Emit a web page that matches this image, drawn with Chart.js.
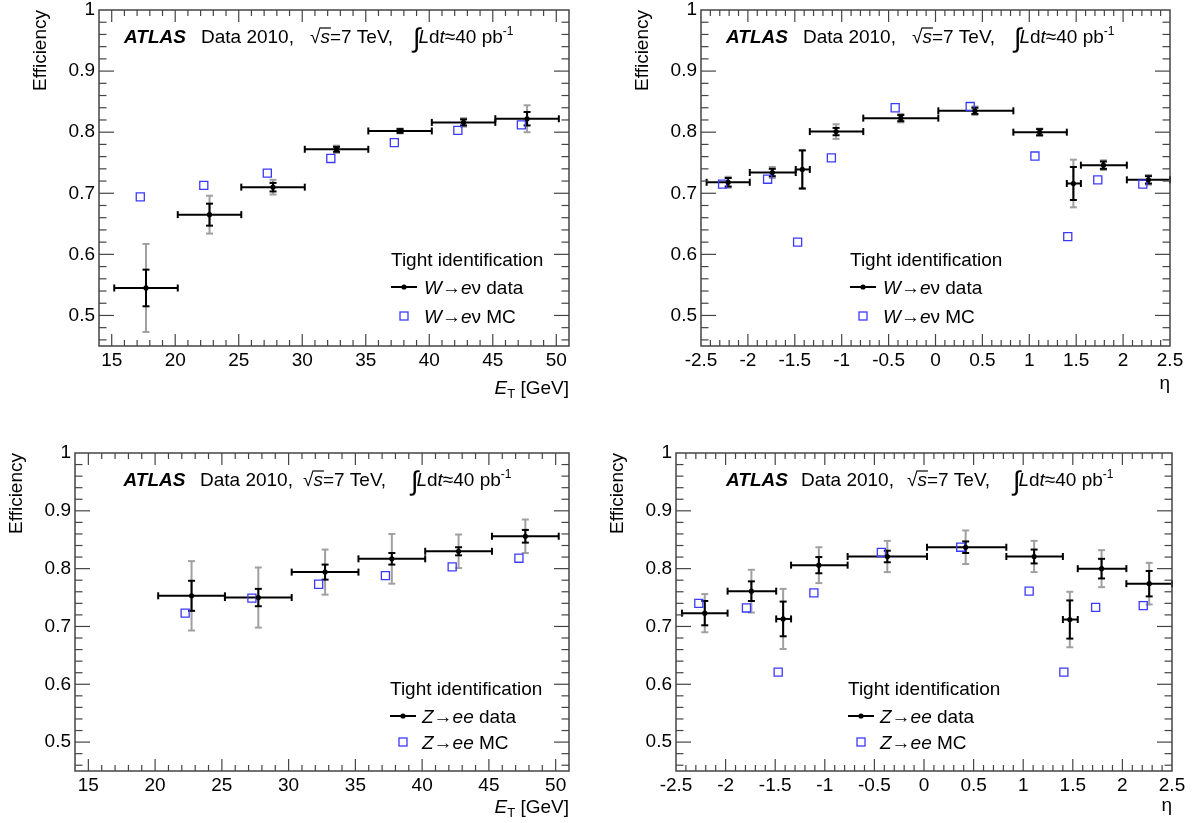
<!DOCTYPE html>
<html><head><meta charset="utf-8">
<script src="https://cdn.jsdelivr.net/npm/chart.js@4.4.1/dist/chart.umd.min.js"></script>
<style>
html,body{margin:0;padding:0;background:#fff;}
#wrap{position:relative;width:1195px;height:823px;background:#fff;}
canvas{position:absolute;left:0;top:0;}
</style></head><body><div id="wrap">
<canvas id="c1" width="1195" height="823"></canvas>
<canvas id="c2" width="1195" height="823"></canvas>
<canvas id="c3" width="1195" height="823"></canvas>
<canvas id="c4" width="1195" height="823"></canvas>
</div>
<script>
// ---------- tick labels ----------
const effTicks = [0.5, 0.6, 0.7, 0.8, 0.9, 1.0];
const etTicks = [15, 20, 25, 30, 35, 40, 45, 50];
const etaTicks = [-2.5, -2, -1.5, -1, -0.5, 0, 0.5, 1, 1.5, 2, 2.5];

// ---------- W -> e nu vs E_T ----------
const wEtDataX = [17.7, 22.7, 27.7, 32.7, 37.7, 42.7, 47.7];
const wEtDataY = [0.545, 0.665, 0.710, 0.772, 0.802, 0.816, 0.822];
const wEtStat  = [0.030, 0.018, 0.007, 0.004, 0.003, 0.005, 0.011];
const wEtTot   = [0.072, 0.031, 0.012, 0.006, 0.004, 0.007, 0.022];
const wEtLo    = [15.2, 20.2, 25.2, 30.2, 35.2, 40.2, 45.2];
const wEtHi    = [20.2, 25.2, 30.2, 35.2, 40.2, 45.2, 50.2];
const wEtMcX   = [17.25, 22.25, 27.25, 32.25, 37.25, 42.25, 47.25];
const wEtMcY   = [0.694, 0.713, 0.733, 0.757, 0.783, 0.803, 0.812];

// ---------- W -> e nu vs eta ----------
const etaLo    = [-2.44, -1.98, -1.49, -1.34, -0.77, 0.03, 0.83, 1.40, 1.55, 2.04];
const etaHi    = [-1.98, -1.49, -1.34, -0.77, 0.03, 0.83, 1.40, 1.55, 2.04, 2.50];
const etaDataX = [-2.21, -1.74, -1.42, -1.06, -0.37, 0.42, 1.11, 1.47, 1.79, 2.27];
const etaMcX   = [-2.27, -1.79, -1.47, -1.11, -0.43, 0.37, 1.06, 1.41, 1.73, 2.21];
const wEtaDataY = [0.718, 0.734, 0.739, 0.801, 0.823, 0.835, 0.800, 0.716, 0.746, 0.722];
const wEtaStat  = [0.007, 0.006, 0.031, 0.006, 0.005, 0.005, 0.005, 0.027, 0.006, 0.006];
const wEtaTot   = [0.009, 0.009, 0.032, 0.012, 0.007, 0.007, 0.006, 0.039, 0.008, 0.008];
const wEtaMcY   = [0.715, 0.723, 0.620, 0.758, 0.840, 0.842, 0.761, 0.629, 0.722, 0.715];

// ---------- Z -> ee vs E_T ----------
const zEtDataX = [22.73, 27.73, 32.73, 37.73, 42.73, 47.73];
const zEtDataY = [0.753, 0.750, 0.794, 0.817, 0.830, 0.856];
const zEtStat  = [0.026, 0.015, 0.013, 0.010, 0.007, 0.011];
const zEtTot   = [0.060, 0.052, 0.039, 0.043, 0.029, 0.029];
const zEtLo    = [20.23, 25.23, 30.23, 35.23, 40.23, 45.23];
const zEtHi    = [25.23, 30.23, 35.23, 40.23, 45.23, 50.23];
const zEtMcX   = [22.25, 27.25, 32.25, 37.25, 42.25, 47.25];
const zEtMcY   = [0.723, 0.749, 0.773, 0.788, 0.803, 0.818];

// ---------- Z -> ee vs eta ----------
const zEtaDataY = [0.723, 0.761, 0.713, 0.806, 0.821, 0.837, 0.821, 0.712, 0.800, 0.774];
const zEtaStat  = [0.021, 0.017, 0.030, 0.014, 0.010, 0.010, 0.012, 0.033, 0.017, 0.022];
const zEtaTot   = [0.033, 0.037, 0.052, 0.031, 0.027, 0.029, 0.027, 0.048, 0.032, 0.036];
const zEtaMcY   = [0.740, 0.732, 0.621, 0.758, 0.828, 0.837, 0.761, 0.621, 0.733, 0.736];

const FONT = '"Liberation Sans", Arial, Helvetica, sans-serif';
const FS = 19;

function setFont(ctx, style, size) {
  ctx.font = (style ? style + ' ' : '') + size + 'px ' + FONT;
}
function runsWidth(ctx, parts) {
  let w = 0;
  for (const p of parts) { setFont(ctx, p.style, p.size || FS); w += ctx.measureText(p.t).width + (p.gap || 0); }
  return w;
}
function drawRuns(ctx, x, y, parts) {
  for (const p of parts) {
    setFont(ctx, p.style, p.size || FS);
    ctx.fillText(p.t, x, y + (p.dy || 0));
    const w = ctx.measureText(p.t).width;
    if (p.over) {
      ctx.save(); ctx.lineWidth = 1.2; ctx.strokeStyle = '#000';
      ctx.beginPath(); ctx.moveTo(x - 1, y - 15); ctx.lineTo(x + w + 1, y - 15); ctx.stroke(); ctx.restore();
    }
    x += w + (p.gap || 0);
  }
  return x;
}
function seg(c, x1, y1, x2, y2) { c.beginPath(); c.moveTo(x1, y1); c.lineTo(x2, y2); c.stroke(); }

function makePanel(id, cfg) {
  const isEta = cfg.axis === 'eta';
  const xMin = isEta ? -2.5 : 14, xMax = isEta ? 2.5 : 51;
  const xTicks = isEta ? etaTicks : etTicks;
  const xMinor = isEta ? 0.1 : 1;
  const YW = 60, XH = 30;
  const A = cfg.area; // [left, top, right, bottom]
  const fmt = v => (Math.abs(v - 1) < 1e-9 && !isEta) ? String(Math.round(v * 10) / 10) : String(Math.round(v * 10) / 10);

  const plugin = {
    id: 'root_' + id,
    beforeDatasetsDraw(chart) {
      const c = chart.ctx, xs = chart.scales.x, ys = chart.scales.y;
      c.save();
      c.lineCap = 'butt';
      // total uncertainty (grey)
      c.strokeStyle = '#a0a0a0'; c.lineWidth = 2;
      cfg.dataX.forEach((xv, i) => {
        const px = xs.getPixelForValue(xv);
        const lo = ys.getPixelForValue(cfg.dataY[i] - cfg.tot[i]);
        const hi = ys.getPixelForValue(cfg.dataY[i] + cfg.tot[i]);
        seg(c, px, lo, px, hi); seg(c, px - 3.5, lo, px + 3.5, lo); seg(c, px - 3.5, hi, px + 3.5, hi);
      });
      // statistical (black)
      c.strokeStyle = '#000'; c.lineWidth = 2;
      cfg.dataX.forEach((xv, i) => {
        const px = xs.getPixelForValue(xv);
        const lo = ys.getPixelForValue(cfg.dataY[i] - cfg.stat[i]);
        const hi = ys.getPixelForValue(cfg.dataY[i] + cfg.stat[i]);
        seg(c, px, lo, px, hi); seg(c, px - 3.5, lo, px + 3.5, lo); seg(c, px - 3.5, hi, px + 3.5, hi);
        const py = ys.getPixelForValue(cfg.dataY[i]);
        const x1 = xs.getPixelForValue(cfg.lo[i]), x2 = xs.getPixelForValue(cfg.hi[i]);
        seg(c, x1, py, x2, py); seg(c, x1, py - 3.5, x1, py + 3.5); seg(c, x2, py - 3.5, x2, py + 3.5);
      });
      c.restore();
    },
    afterDraw(chart) {
      const c = chart.ctx, xs = chart.scales.x, ys = chart.scales.y, ca = chart.chartArea;
      c.save();
      // frame
      c.strokeStyle = '#444'; c.lineWidth = 1.5;
      c.strokeRect(ca.left, ca.top, ca.right - ca.left, ca.bottom - ca.top);
      // x ticks (inward, bottom + top)
      c.lineWidth = 1.2;
      const nX = Math.round((xMax - xMin) / xMinor);
      for (let k = 1; k < nX; k++) {
        const v = xMin + k * xMinor;
        const major = xTicks.some(t => Math.abs(t - v) < 1e-6);
        const L = major ? 12 : 6;
        const px = xs.getPixelForValue(v);
        seg(c, px, ca.bottom, px, ca.bottom - L);
        seg(c, px, ca.top, px, ca.top + L);
      }
      const nY = Math.round((1.0 - 0.45) / 0.02);
      for (let k = 1; k <= nY; k++) {
        const v = 1.0 - k * 0.02;
        if (v < 0.451) break;
        const major = effTicks.some(t => Math.abs(t - v) < 1e-6);
        const L = major ? 15 : 7.5;
        const py = ys.getPixelForValue(v);
        seg(c, ca.left, py, ca.left + L, py);
        seg(c, ca.right, py, ca.right - L, py);
      }
      // y title
      c.fillStyle = '#000';
      c.save();
      c.translate(ca.left - 53, ca.top);
      c.rotate(-Math.PI / 2);
      setFont(c, '', FS); c.textAlign = 'right'; c.textBaseline = 'alphabetic';
      c.fillText('Efficiency', 0, 0);
      c.restore();
      c.textAlign = 'left'; c.textBaseline = 'alphabetic';
      // x title
      const xt = isEta ? [{ t: 'η' }] : [{ t: 'E', style: 'italic' }, { t: 'T', size: 13, dy: 4 }, { t: ' [GeV]' }];
      const w = runsWidth(c, xt);
      drawRuns(c, ca.right - w, cfg.xTitleY, xt);
      // ATLAS label
      const ax = cfg.atlasX, ay = cfg.atlasY;
      drawRuns(c, ax[0], ay, [{ t: 'ATLAS', style: 'italic bold' }]);
      drawRuns(c, ax[1], ay, [{ t: 'Data 2010,' }]);
      drawRuns(c, ax[2], ay, [{ t: '√' }, { t: 's', style: 'italic', over: true }, { t: '=7 TeV,' }]);
      drawRuns(c, ax[3], ay, [{ t: '∫', size: 27, dy: 4, gap: -2 }, { t: 'L', style: 'italic' }, { t: 'd' }, { t: 't', style: 'italic' },
        { t: '≈40 pb' }, { t: '-1', size: 12, dy: -8 }]);
      // legend
      const lg = cfg.leg;
      drawRuns(c, lg.x, lg.y0 + 6.5, [{ t: 'Tight identification' }]);
      c.strokeStyle = '#000'; c.lineWidth = 2;
      seg(c, lg.x, lg.y1, lg.x + 26, lg.y1);
      c.beginPath(); c.arc(lg.x + 13, lg.y1, 2.6, 0, Math.PI * 2); c.fillStyle = '#000'; c.fill();
      c.strokeStyle = '#3a3aff'; c.lineWidth = 1.3;
      c.strokeRect(lg.x + 9, lg.y2 - 4, 8, 8);
      c.fillStyle = '#000';
      const ch = cfg.channel === 'W'
        ? [{ t: 'W', style: 'italic' }, { t: '→' }, { t: 'e', style: 'italic' }, { t: 'ν' }]
        : [{ t: 'Z', style: 'italic' }, { t: '→' }, { t: 'ee', style: 'italic' }];
      drawRuns(c, lg.tx, lg.y1 + 6.5, ch.concat([{ t: ' data' }]));
      drawRuns(c, lg.tx, lg.y2 + 6.5, ch.concat([{ t: ' MC' }]));
      c.restore();
    }
  };

  new Chart(document.getElementById(id), {
    type: 'scatter',
    data: {
      datasets: [
        { label: 'data', data: cfg.dataX.map((x, i) => ({ x, y: cfg.dataY[i] })), pointRadius: 2.6,
          pointBackgroundColor: '#000', pointBorderColor: '#000', pointBorderWidth: 0, showLine: false },
        { label: 'MC', data: cfg.mcX.map((x, i) => ({ x, y: cfg.mcY[i] })), pointStyle: 'rect', pointRadius: 5.7,
          pointBackgroundColor: 'rgba(0,0,0,0)', pointBorderColor: '#3a3aff', pointBorderWidth: 1.3, showLine: false }
      ]
    },
    options: {
      responsive: false, animation: false, events: [],
      layout: { padding: { left: A[0] - YW, top: A[1], right: 1195 - A[2], bottom: 823 - A[3] - XH } },
      plugins: { legend: { display: false }, tooltip: { enabled: false } },
      scales: {
        x: {
          type: 'linear', min: xMin, max: xMax,
          afterBuildTicks: s => { s.ticks = xTicks.map(v => ({ value: v })); },
          afterFit: s => { s.height = XH; s.paddingLeft = 0; s.paddingRight = 0; },
          grid: { display: false, drawTicks: false }, border: { display: false },
          ticks: { autoSkip: false, maxRotation: 0, padding: 3, color: '#000', font: { family: FONT, size: FS },
            callback: v => fmt(v) }
        },
        y: {
          type: 'linear', min: 0.45, max: 1.0,
          afterBuildTicks: s => { s.ticks = effTicks.map(v => ({ value: v })); },
          afterFit: s => { s.width = YW; s.paddingTop = 0; s.paddingBottom = 0; },
          grid: { display: false, drawTicks: false }, border: { display: false },
          ticks: { autoSkip: false, padding: 4, color: '#000', font: { family: FONT, size: FS },
            callback: v => fmt(v) }
        }
      }
    },
    plugins: [plugin]
  });
}

makePanel('c1', { axis: 'et', channel: 'W', area: [99, 10, 569, 346],
  dataX: wEtDataX, dataY: wEtDataY, stat: wEtStat, tot: wEtTot, lo: wEtLo, hi: wEtHi, mcX: wEtMcX, mcY: wEtMcY,
  xTitleY: 394, atlasX: [124, 201, 310, 413], atlasY: 43,
  leg: { x: 391, tx: 424, y0: 259, y1: 287, y2: 316 } });
makePanel('c2', { axis: 'eta', channel: 'W', area: [701, 10, 1170, 346],
  dataX: etaDataX, dataY: wEtaDataY, stat: wEtaStat, tot: wEtaTot, lo: etaLo, hi: etaHi, mcX: etaMcX, mcY: wEtaMcY,
  xTitleY: 389, atlasX: [726, 803, 912, 1014], atlasY: 43,
  leg: { x: 850, tx: 883, y0: 259, y1: 287, y2: 316 } });
makePanel('c3', { axis: 'et', channel: 'Z', area: [75, 453, 569, 771],
  dataX: zEtDataX, dataY: zEtDataY, stat: zEtStat, tot: zEtTot, lo: zEtLo, hi: zEtHi, mcX: zEtMcX, mcY: zEtMcY,
  xTitleY: 813, atlasX: [123.5, 200, 303, 411], atlasY: 486,
  leg: { x: 390, tx: 422, y0: 688, y1: 716, y2: 742 } });
makePanel('c4', { axis: 'eta', channel: 'Z', area: [676, 453, 1172, 771],
  dataX: etaDataX, dataY: zEtaDataY, stat: zEtaStat, tot: zEtaTot, lo: etaLo, hi: etaHi, mcX: etaMcX, mcY: zEtaMcY,
  xTitleY: 811, atlasX: [726, 801, 907, 1013], atlasY: 486,
  leg: { x: 848, tx: 880, y0: 688, y1: 716, y2: 742 } });
</script>
</body></html>
